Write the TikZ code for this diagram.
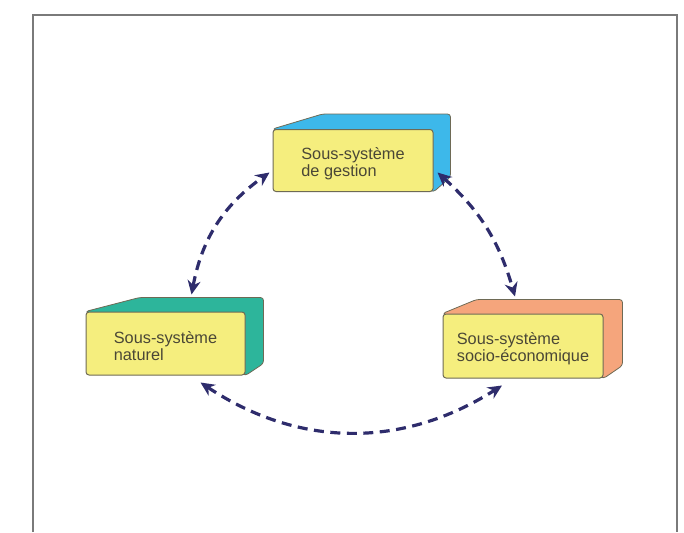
\documentclass[tikz,border=0pt]{standalone}
\usepackage{fontspec}
\setmainfont{Liberation Sans}
\usetikzlibrary{arrows.meta,calc,backgrounds}

\definecolor{frontyellow}{HTML}{F5EE7E}
\definecolor{edgegray}{HTML}{6E6A55}
\definecolor{textgray}{HTML}{4A4736}
\definecolor{gestcyan}{HTML}{3DB8EA}
\definecolor{natteal}{HTML}{2DB59B}
\definecolor{socsalmon}{HTML}{F5A57C}
\definecolor{linknavy}{HTML}{2E2C6C}
\definecolor{framegray}{HTML}{7A7A7A}

\tikzset{
  front/.style={draw=edgegray, line width=1pt, fill=frontyellow,
    rounded corners=3pt, inner sep=0pt, minimum width=160pt, minimum height=62pt},
  label/.style={align=left, text=textgray, inner sep=0pt,
    font=\fontsize{16.3}{17}\selectfont},
  back/.style={draw=edgegray, line width=0.8pt, rounded corners=3pt},
  link/.style={draw=linknavy, line width=3.2pt, dash pattern=on 10pt off 6.5pt,
    {Stealth[length=14pt,width=13pt]}-{Stealth[length=14pt,width=13pt]}},
}

\begin{document}
\begin{tikzpicture}[x=1pt, y=-1pt]
  \useasboundingbox (0,0) rectangle (684,532);

  % outer frame, open at the bottom
  \draw[framegray, line width=1.6pt] (33,532) -- (33,15) -- (677,15) -- (677,532);

  % front faces of the three blocks
  \node[front] (gest) at (353,160.5) {};
  \node[front, minimum width=159pt, minimum height=63pt] (nat) at (165.5,343.5) {};
  \node[front, minimum height=64pt] (soc) at (523,346) {};

  \node[label, yshift=-3pt] (gestlbl) at (gest.center) {Sous-système\\de gestion};
  \node[label, yshift=-3pt] (natlbl) at (nat.center) {Sous-système\\naturel};
  \node[label, yshift=-3pt] (soclbl) at (soc.center) {Sous-système\\socio-économique};

  % top and side faces behind the fronts
  \begin{scope}[on background layer]
    \fill[back, fill=gestcyan]
      (gest.north west) -- ($(gest.north west)+(50,-15)$) -- ($(gest.north east)+(17,-15)$)
      -- ($(gest.south east)+(17,-15)$) -- (gest.south east) -- cycle;
    \fill[back, fill=natteal]
      (nat.north west) -- ($(nat.north west)+(54,-14)$) -- ($(nat.north east)+(18,-14)$)
      -- ($(nat.south east)+(18,-12)$) -- (nat.south east) -- cycle;
    \fill[back, fill=socsalmon]
      (soc.north west) -- ($(soc.north west)+(34,-14)$) -- ($(soc.north east)+(19,-14)$)
      -- ($(soc.south east)+(19,-13)$) -- (soc.south east) -- cycle;
  \end{scope}

  % two-way links between the subsystems
  \draw[link] ($(nat.north)+(26,-17)$) to[bend left=22] ($(gest.west)+(-3,12)$);
  \draw[link] ($(gest.east)+(4,12)$) to[bend left=16] ($(soc.north)+(-8,-17)$);
  \draw[link] ($(nat.south)+(35,7)$) to[bend right=33] ($(soc.south)+(-21,7)$);
\end{tikzpicture}
\end{document}
